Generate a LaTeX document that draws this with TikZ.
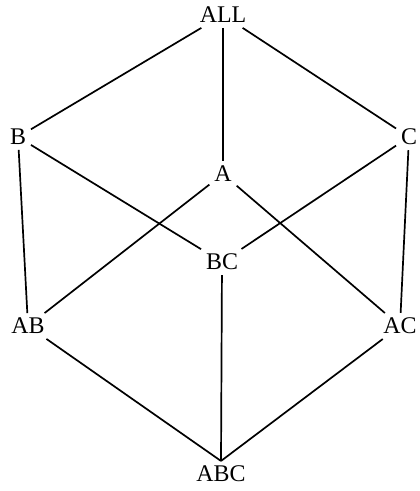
\documentclass[tikz,border=0pt]{standalone}
\usepackage{fontspec}
\setmainfont{Liberation Serif}
\usepackage{tikz}
\usetikzlibrary{positioning}

\begin{document}
\begin{tikzpicture}[
      x=1bp, y=-1bp,
      font=\fontsize{24}{27}\selectfont,
      cell/.style={inner sep=5bp, outer sep=0pt},
      link/.style={line width=1.7bp, black},
    ]
    \useasboundingbox (0,0) rectangle (419,491);

    % lattice nodes
    \node[cell] (all) at (223,15)  {ALL};
    \node[cell] (b)   at (18,137)  {B};
    \node[cell] (c)   at (409,137) {C};
    \node[cell] (a)   at (223,174) {A};
    \node[cell] (bc)  at (222,262) {BC};
    \node[cell] (ab)  at (28,326)  {AB};
    \node[cell] (ac)  at (400,326) {AC};
    \node[cell] (abc) at (221,474) {ABC};

    % top layer
    \draw[link] (all) -- (b);
    \draw[link] (all) -- (c);
    \draw[link] (all) -- (a);
    % middle layer
    \draw[link] (b) -- (ab);
    \draw[link] (b) -- (bc);
    \draw[link] (c) -- (bc);
    \draw[link] (c) -- (ac);
    \draw[link] (a) -- (ab);
    \draw[link] (a) -- (ac);
    % bottom layer, all meeting above ABC
    \draw[link] (bc) -- (abc.north);
    \draw[link] (ab) -- (abc.north);
    \draw[link] (ac) -- (abc.north);
\end{tikzpicture}
\end{document}
